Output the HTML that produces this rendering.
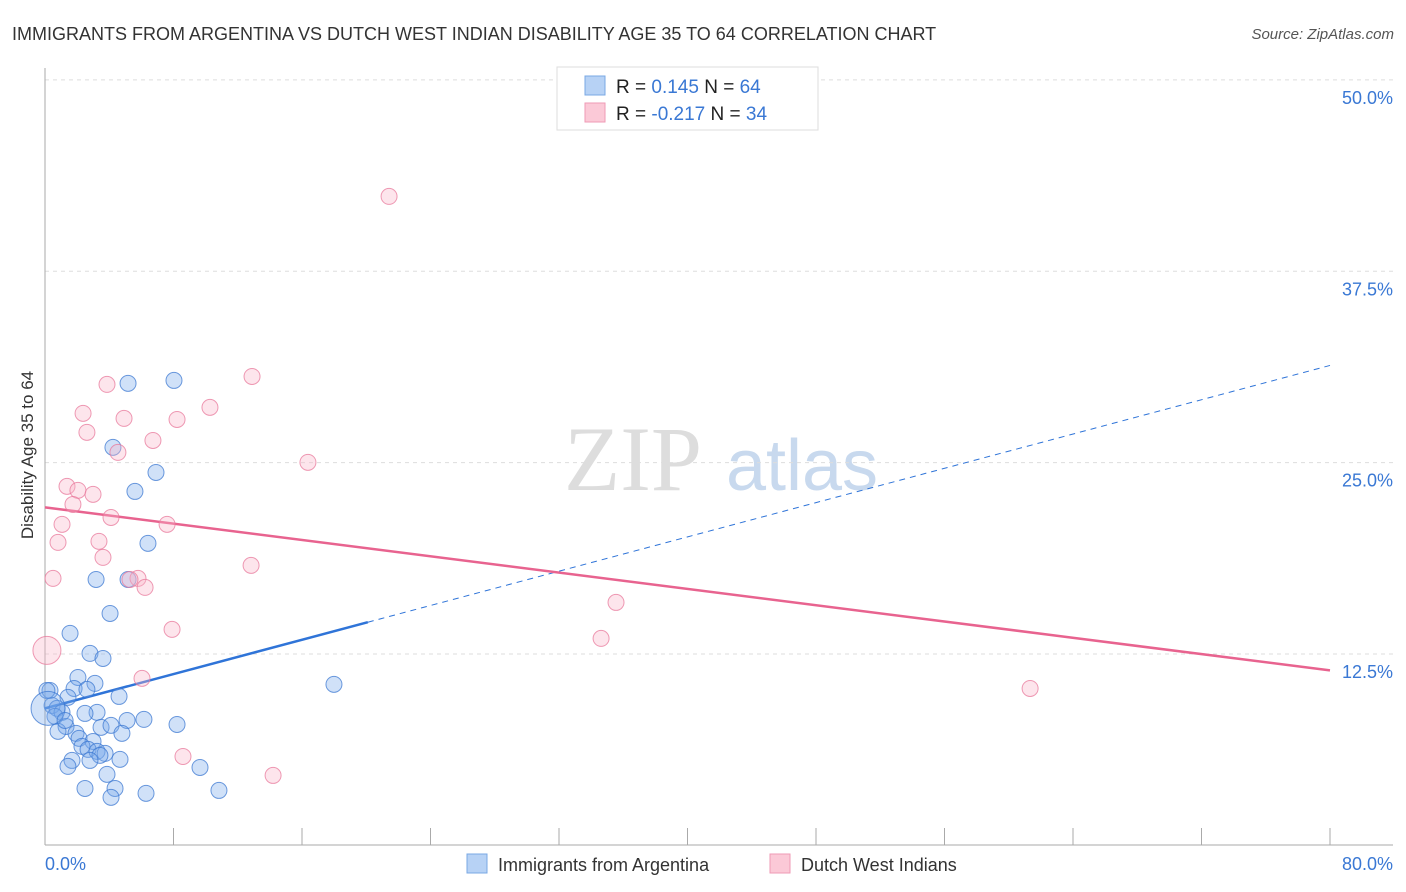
<!DOCTYPE html>
<html><head><meta charset="utf-8"><style>
body{margin:0;background:#fff;font-family:"Liberation Sans",sans-serif;}
svg{display:block}
</style></head><body>
<svg id="chart" width="1406" height="892" viewBox="0 0 1406 892">
<text x="12" y="40" font-size="18" fill="#333">IMMIGRANTS FROM ARGENTINA VS DUTCH WEST INDIAN DISABILITY AGE 35 TO 64 CORRELATION CHART</text>
<text x="1394" y="39" font-size="15" fill="#555" text-anchor="end" font-style="italic">Source: ZipAtlas.com</text>
<text transform="translate(33,455) rotate(-90)" font-size="17" fill="#333" text-anchor="middle">Disability Age 35 to 64</text>
<g>
<text x="633" y="490" font-size="92" fill="#ddd" text-anchor="middle" font-family="Liberation Serif,serif">ZIP</text>
<text x="802" y="490" font-size="72" fill="#c8d9ee" text-anchor="middle">atlas</text>
</g>
<g id="grid"></g><g id="axes"></g><g id="lines"></g><g id="pts"></g>
<g>
<rect x="557" y="67" width="261" height="63" fill="#fff" stroke="#ddd"/>
<rect x="585" y="76" width="20" height="19" fill="#b7d2f5" stroke="#7aa8e4"/>
<rect x="585" y="103" width="20" height="19" fill="#fbc9d7" stroke="#ef9ab5"/>
<text x="616" y="93" font-size="19" fill="#222">R =  <tspan fill="#3a78d4">0.145</tspan>    N = <tspan fill="#3a78d4">64</tspan></text>
<text x="616" y="120" font-size="19" fill="#222">R = <tspan fill="#3a78d4">-0.217</tspan>    N = <tspan fill="#3a78d4">34</tspan></text>
</g>
<g>
<rect x="467" y="854" width="20" height="19" fill="#b7d2f5" stroke="#7aa8e4"/>
<text x="498" y="871" font-size="18" fill="#333">Immigrants from Argentina</text>
<rect x="770" y="854" width="20" height="19" fill="#fbc9d7" stroke="#ef9ab5"/>
<text x="801" y="871" font-size="18" fill="#333">Dutch West Indians</text>
</g>
</svg>
<script>
const xTicks=[0,8,16,24,32,40,48,56,64,72,80];
const yTicks=[12.5,25,37.5,50];
const yTickLabels=["12.5%","25.0%","37.5%","50.0%"];
const blueX=[5.17,8.03,4.23,6.91,5.60,6.41,3.18,5.17,4.05,1.56,2.80,3.61,17.99,2.05,3.11,1.81,2.61,1.43,4.61,0.31,0.44,0.75,1.06,0.62,3.24,2.49,5.11,6.16,8.22,3.49,4.11,1.31,0.81,1.93,2.12,2.99,4.79,2.30,2.68,3.24,3.74,3.42,2.80,4.67,1.68,1.43,3.86,9.65,2.49,4.36,6.29,4.11,10.83,0.12,0.19,1.25];
const blueY=[30.18,30.37,26.0,24.36,23.12,19.73,17.37,17.37,15.15,13.85,12.54,12.21,10.52,10.97,10.58,10.25,10.19,9.67,9.73,10.12,9.14,8.95,8.69,8.43,8.69,8.62,8.16,8.23,7.90,7.71,7.84,7.77,7.45,7.32,6.99,6.79,7.32,6.47,6.27,6.14,6.01,5.88,5.55,5.62,5.55,5.16,4.64,5.09,3.72,3.72,3.40,3.14,3.59,10.12,8.95,8.16];
const pinkX=[21.42,12.89,3.86,2.37,4.92,10.27,8.22,6.72,2.61,4.54,16.37,1.37,2.05,2.99,1.74,1.06,4.11,7.60,0.81,3.36,3.61,0.50,12.83,5.79,6.23,35.55,34.62,7.91,0.12,6.04,8.59,14.20,61.33,5.29];
const pinkY=[42.39,30.63,30.11,28.22,27.89,28.61,27.82,26.45,26.98,25.67,25.02,23.45,23.19,22.93,22.27,20.97,21.42,20.97,19.79,19.86,18.81,17.44,18.29,17.44,16.85,15.87,13.52,14.11,12.74,10.91,5.81,4.57,10.25,17.37];
const blueTrend=[8.95,31.35]; // y at x=0 and x=80
const blueSolidEnd=20.1;
const pinkTrend=[22.08,11.43];
const X=v=>45+v*1285/80, Y=v=>845.4-v*15.31;
const NS="http://www.w3.org/2000/svg";
function mk(p,t,a){const e=document.createElementNS(NS,t);for(const k in a)e.setAttribute(k,a[k]);p.appendChild(e);return e;}
const grid=document.getElementById('grid'),axes=document.getElementById('axes'),lines=document.getElementById('lines'),pts=document.getElementById('pts');
yTicks.forEach((t,i)=>{
 const l=mk(grid,'line',{x1:45,x2:1393,y1:Y(t),y2:Y(t),stroke:'#ddd','stroke-dasharray':'4,4'});
 
 
 const tx=mk(grid,'text',{x:1393,y:Y(t)+24,'font-size':18,fill:'#3a78d4','text-anchor':'end'});
 tx.textContent=yTickLabels[i];
 
 
});
mk(axes,'line',{x1:45,x2:45,y1:68,y2:845,stroke:'#aaa'});
mk(axes,'line',{x1:45,x2:1393,y1:845,y2:845,stroke:'#aaa'});
xTicks.forEach(t=>{
 const l=mk(axes,'line',{x1:X(t),x2:X(t),y1:828,y2:845,stroke:'#aaa'});
 
 
});
const xl0=mk(axes,'text',{x:45,y:870,'font-size':18,fill:'#3a78d4'});xl0.textContent=xTicks[0].toFixed(1)+'%';


const xl1=mk(axes,'text',{x:1393,y:870,'font-size':18,fill:'#3a78d4','text-anchor':'end'});xl1.textContent=xTicks[xTicks.length-1].toFixed(1)+'%';


const by=x=>blueTrend[0]+(blueTrend[1]-blueTrend[0])*x/80;
const bs=mk(lines,'line',{x1:X(0),y1:Y(by(0)),x2:X(blueSolidEnd),y2:Y(by(blueSolidEnd)),stroke:'#2f74d8','stroke-width':2.5});


const bd=mk(lines,'line',{x1:X(blueSolidEnd),y1:Y(by(blueSolidEnd)),x2:X(80),y2:Y(by(80)),stroke:'#2f74d8','stroke-width':1,'stroke-dasharray':'6,5'});


const pl=mk(lines,'line',{x1:X(0),y1:Y(pinkTrend[0]),x2:X(80),y2:Y(pinkTrend[1]),stroke:'#e8638f','stroke-width':2.5});


blueX.forEach((x,i)=>{
 const c=mk(pts,'circle',{cx:X(x),cy:Y(blueY[i]),r:(i==54?17:8),fill:'rgba(120,170,235,0.35)',stroke:'rgba(60,120,210,0.75)','stroke-width':1});
 
 
});
pinkX.forEach((x,i)=>{
 const c=mk(pts,'circle',{cx:X(x),cy:Y(pinkY[i]),r:(i==28?14:8),fill:'rgba(248,180,200,0.35)',stroke:'rgba(232,120,155,0.75)','stroke-width':1});
 
 
});
</script>
</body></html>
